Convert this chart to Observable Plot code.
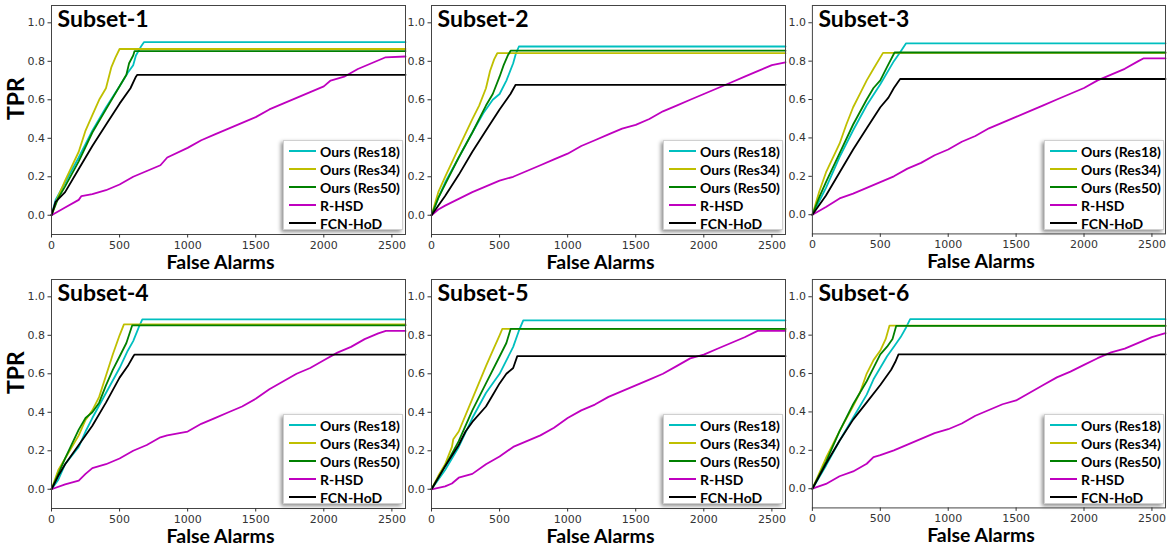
<!DOCTYPE html>
<html><head><meta charset="utf-8">
<script src="https://cdn.jsdelivr.net/npm/d3@7"></script>
<script src="https://cdn.jsdelivr.net/npm/@observablehq/plot@0.6"></script>
<style>
body{margin:0;background:#fff;}
#wrap{position:relative;width:1171px;height:548px;overflow:hidden;font-family:"DejaVu Sans",sans-serif;}
.panel{position:absolute;}
.legend{position:absolute;background:#fff;border:1px solid #d0d0d0;box-shadow:-2px 2px 4px rgba(0,0,0,.45);font-family:Lato,sans-serif;font-weight:bold;font-size:14px;box-sizing:border-box;}
.legend .row{position:absolute;left:0;height:18px;display:flex;align-items:center;white-space:nowrap;color:#000;}
.legend .sw{width:27px;height:0;border-top:2px solid;margin-left:5px;margin-right:4px;}
</style></head>
<body><div id="wrap"></div>
<script>
const subsets = ["Subset-1","Subset-2","Subset-3","Subset-4","Subset-5","Subset-6"];
const series = ["Ours (Res18)","Ours (Res34)","Ours (Res50)","R-HSD","FCN-HoD"];
const colors = ["#00bfbf","#bfbf00","#008000","#bf00bf","#000000"];
const xTicks = [0,500,1000,1500,2000,2500];
const yTicks = [0,0.2,0.4,0.6,0.8,1.0];

const res18 = [
 [[0,0],[30,0.08],[100,0.17],[200,0.3],[300,0.44],[400,0.56],[500,0.67],[560,0.74],[600,0.78],[620,0.83],[660,0.88],[680,0.9],[2600,0.9]],
 [[0,0],[50,0.09],[100,0.17],[200,0.3],[300,0.43],[380,0.53],[450,0.6],[500,0.63],[550,0.7],[600,0.79],[620,0.84],[642,0.877],[2600,0.877]],
 [[0,0],[50,0.07],[100,0.14],[200,0.3],[300,0.44],[400,0.57],[500,0.68],[600,0.8],[650,0.85],[690,0.893],[2600,0.893]],
 [[0,0],[50,0.05],[100,0.13],[200,0.22],[250,0.3],[300,0.37],[400,0.5],[500,0.63],[560,0.72],[600,0.77],[640,0.84],[667,0.883],[2600,0.883]],
 [[0,0],[100,0.1],[200,0.22],[300,0.37],[400,0.5],[500,0.6],[550,0.67],[600,0.74],[640,0.82],[674,0.878],[2600,0.878]],
 [[0,0],[100,0.12],[200,0.25],[300,0.37],[400,0.49],[450,0.57],[500,0.63],[550,0.69],[600,0.74],[650,0.79],[690,0.84],[720,0.883],[2600,0.883]]
];
const res34 = [
 [[0,0],[50,0.1],[100,0.18],[200,0.33],[250,0.44],[300,0.52],[350,0.6],[400,0.66],[440,0.77],[470,0.82],[500,0.864],[2600,0.864]],
 [[0,0],[50,0.12],[100,0.2],[200,0.35],[300,0.5],[350,0.57],[400,0.66],[430,0.75],[460,0.81],[483,0.842],[2600,0.842]],
 [[0,0],[50,0.12],[100,0.22],[200,0.37],[250,0.47],[300,0.56],[350,0.63],[400,0.7],[450,0.76],[520,0.843],[2600,0.843]],
 [[0,0],[50,0.1],[100,0.16],[200,0.28],[250,0.36],[300,0.41],[350,0.48],[400,0.59],[450,0.7],[500,0.8],[532,0.857],[2600,0.857]],
 [[0,0],[50,0.07],[100,0.13],[150,0.22],[160,0.26],[200,0.3],[300,0.47],[400,0.64],[450,0.72],[500,0.8],[520,0.833],[2600,0.833]],
 [[0,0],[100,0.16],[200,0.3],[300,0.43],[350,0.5],[400,0.6],[450,0.67],[500,0.72],[540,0.78],[568,0.85],[2600,0.85]]
];
const res50 = [
 [[0,0],[50,0.09],[100,0.15],[200,0.28],[300,0.43],[400,0.55],[500,0.67],[550,0.73],[570,0.79],[600,0.83],[610,0.853],[2600,0.853]],
 [[0,0],[50,0.09],[100,0.16],[200,0.3],[300,0.43],[400,0.57],[450,0.63],[500,0.72],[530,0.78],[560,0.83],[581,0.855],[2600,0.855]],
 [[0,0],[50,0.09],[100,0.17],[200,0.32],[300,0.47],[400,0.6],[450,0.66],[500,0.7],[550,0.77],[605,0.845],[2600,0.845]],
 [[0,0],[50,0.08],[100,0.16],[200,0.31],[250,0.37],[300,0.4],[350,0.45],[400,0.54],[450,0.62],[500,0.69],[550,0.76],[593,0.852],[2600,0.852]],
 [[0,0],[100,0.12],[200,0.25],[300,0.41],[400,0.55],[500,0.69],[550,0.76],[581,0.833],[2600,0.833]],
 [[0,0],[100,0.14],[200,0.3],[300,0.44],[400,0.56],[450,0.63],[500,0.7],[550,0.74],[590,0.78],[617,0.848],[2600,0.848]]
];
const rhsd = [
 [[0,0],[100,0.04],[200,0.08],[220,0.1],[300,0.11],[400,0.13],[500,0.16],[600,0.2],[700,0.23],[800,0.26],[850,0.3],[1000,0.35],[1100,0.39],[1200,0.42],[1300,0.45],[1400,0.48],[1500,0.51],[1600,0.55],[1700,0.58],[1800,0.61],[1900,0.64],[2000,0.67],[2050,0.7],[2150,0.72],[2250,0.76],[2350,0.79],[2450,0.82],[2600,0.825]],
 [[0,0],[50,0.03],[100,0.05],[200,0.085],[300,0.12],[400,0.15],[500,0.18],[600,0.2],[700,0.23],[800,0.26],[900,0.29],[1000,0.32],[1100,0.36],[1200,0.39],[1300,0.42],[1400,0.45],[1500,0.47],[1600,0.5],[1700,0.54],[1800,0.57],[1900,0.6],[2000,0.63],[2100,0.66],[2200,0.69],[2300,0.72],[2400,0.75],[2500,0.78],[2600,0.795]],
 [[0,0],[100,0.04],[200,0.085],[300,0.11],[400,0.14],[500,0.17],[600,0.2],[700,0.24],[800,0.27],[900,0.31],[1000,0.34],[1100,0.38],[1200,0.41],[1300,0.45],[1400,0.48],[1500,0.51],[1600,0.54],[1700,0.57],[1800,0.6],[1900,0.63],[2000,0.66],[2100,0.7],[2200,0.73],[2300,0.76],[2400,0.8],[2440,0.815],[2600,0.815]],
 [[0,0],[100,0.025],[200,0.045],[250,0.08],[300,0.11],[400,0.13],[500,0.16],[600,0.2],[700,0.23],[800,0.27],[850,0.28],[1000,0.3],[1100,0.34],[1200,0.37],[1300,0.4],[1400,0.43],[1500,0.47],[1600,0.52],[1700,0.56],[1800,0.6],[1900,0.63],[2000,0.67],[2100,0.71],[2200,0.74],[2300,0.78],[2400,0.81],[2456,0.823],[2600,0.823]],
 [[0,0],[100,0.015],[150,0.03],[200,0.06],[300,0.08],[400,0.13],[500,0.17],[600,0.22],[700,0.25],[800,0.28],[900,0.32],[1000,0.37],[1100,0.41],[1200,0.44],[1300,0.48],[1400,0.51],[1500,0.54],[1600,0.57],[1700,0.6],[1800,0.64],[1900,0.68],[2000,0.7],[2100,0.73],[2200,0.76],[2300,0.79],[2395,0.823],[2600,0.823]],
 [[0,0],[100,0.025],[200,0.065],[300,0.09],[400,0.13],[450,0.165],[500,0.175],[600,0.2],[700,0.23],[800,0.26],[900,0.29],[1000,0.31],[1100,0.34],[1200,0.38],[1300,0.41],[1400,0.44],[1500,0.46],[1600,0.5],[1700,0.54],[1800,0.58],[1900,0.61],[2000,0.645],[2100,0.68],[2200,0.71],[2300,0.73],[2400,0.76],[2500,0.79],[2600,0.81]]
];
const fcn = [
 [[0,0],[30,0.07],[100,0.12],[200,0.24],[300,0.36],[400,0.47],[500,0.58],[580,0.66],[620,0.72],[630,0.73],[2600,0.73]],
 [[0,0],[100,0.1],[200,0.21],[300,0.33],[400,0.44],[500,0.55],[580,0.63],[618,0.678],[2600,0.678]],
 [[0,0],[100,0.1],[200,0.22],[300,0.34],[400,0.45],[500,0.56],[560,0.61],[600,0.66],[646,0.707],[2600,0.707]],
 [[0,0],[50,0.07],[100,0.13],[200,0.23],[300,0.33],[400,0.45],[500,0.58],[560,0.64],[600,0.69],[610,0.7],[2600,0.7]],
 [[0,0],[100,0.12],[200,0.23],[250,0.3],[300,0.35],[400,0.43],[450,0.49],[500,0.55],[550,0.6],[600,0.63],[630,0.692],[2600,0.692]],
 [[0,0],[100,0.13],[200,0.25],[300,0.36],[400,0.45],[500,0.54],[580,0.62],[610,0.66],[634,0.7],[2600,0.7]]
];
const allSeries = [res18,res34,res50,rhsd,fcn];

const wrap = document.getElementById("wrap");
const colLeft = [51,431,812], rowTop = [5,279];
const FW = 354, FH = 229, ML = 45, MT = 5, MR = 6, MB = 40;

for (let i = 0; i < 6; i++) {
  const col = i % 3, row = Math.floor(i / 3);
  const data = series.flatMap((s, k) => allSeries[k][i].map(([x, y]) => ({x, y, s})));
  const marks = [
    Plot.line(data, {x: "x", y: "y", z: "s", stroke: "s", strokeWidth: 1.8}),
    Plot.frame({stroke: "#444", strokeWidth: 1}),
    Plot.axisX({ticks: xTicks, tickSize: 3.5, tickPadding: 3, fontSize: 11, color: "#333", label: null, tickFormat: d => String(d)}),
    Plot.axisY({ticks: yTicks, tickSize: 3.5, tickPadding: 3, fontSize: 11, color: "#333", label: null, tickFormat: d3.format(".1f")}),
    Plot.text([subsets[i]], {frameAnchor: "top-left", text: d => d, dx: 6, dy: 5, lineAnchor: "top", textAnchor: "start", fontSize: 23, fontWeight: "bold", fontFamily: "Lato", fill: "#000"}),
    Plot.text(["False Alarms"], {frameAnchor: "bottom", text: d => d, dy: 28, dx: -8, lineAnchor: "middle", fontSize: 19.5, fontWeight: "bold", fontFamily: "Lato", fill: "#000"})
  ];
  if (col === 0) {
    marks.push(Plot.text(["TPR"], {frameAnchor: "left", text: d => d, dx: -35, rotate: -90, lineAnchor: "middle", fontSize: 23, fontWeight: "bold", fontFamily: "Lato", fill: "#000"}));
  }
  const chart = Plot.plot({
    width: ML + FW + MR, height: MT + FH + MB,
    marginLeft: ML, marginTop: MT, marginRight: MR, marginBottom: MB,
    x: {domain: [0, 2600]},
    y: {domain: [-0.1, 1.09]},
    color: {domain: series, range: colors},
    style: {background: "transparent", overflow: "visible", fontFamily: "DejaVu Sans"},
    marks
  });
  const div = document.createElement("div");
  div.className = "panel";
  div.style.left = (colLeft[col] - ML) + "px";
  div.style.top = (rowTop[row] - MT) + "px";
  div.appendChild(chart);
  wrap.appendChild(div);

  // legend (lower right inside frame)
  const lg = document.createElement("div");
  lg.className = "legend";
  lg.style.left = (colLeft[col] + FW - 122) + "px";
  lg.style.top = (rowTop[row] + 135) + "px";
  lg.style.width = "120px";
  lg.style.height = "90px";
  series.forEach((s, k) => {
    const r = document.createElement("div");
    r.className = "row";
    r.style.top = (1 + k * 18) + "px";
    const sw = document.createElement("span");
    sw.className = "sw";
    sw.style.borderTopColor = colors[k];
    const t = document.createElement("span");
    t.textContent = s;
    r.appendChild(sw); r.appendChild(t);
    lg.appendChild(r);
  });
  wrap.appendChild(lg);
}
</script></body></html>
